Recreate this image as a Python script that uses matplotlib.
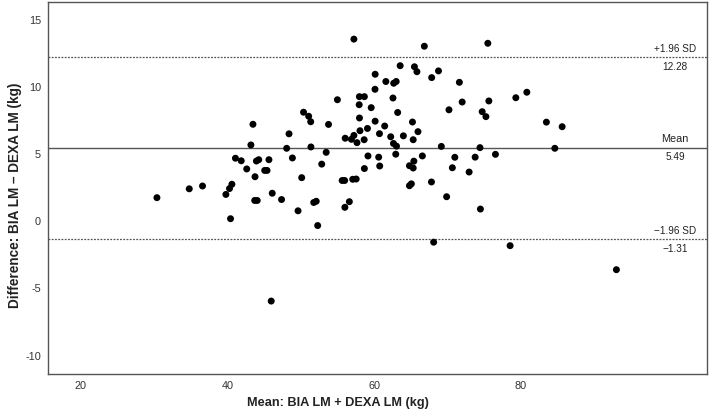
import matplotlib
matplotlib.use("Agg")
import matplotlib.pyplot as plt
import matplotlib.transforms as mtransforms

# Mean of the two methods (kg)
mean_lm = [
    30.36, 34.77, 36.58, 39.77, 40.26, 40.59, 40.40, 41.07, 41.86, 42.61,
    43.46, 43.18, 43.93, 44.25, 43.74, 43.70, 44.04, 45.06, 45.38, 45.64,
    46.09, 47.36, 48.38, 48.06, 48.84, 49.61, 50.11, 50.36, 51.06, 51.34,
    51.37, 51.75, 52.09, 52.29, 52.84, 53.45, 53.77, 54.98, 55.63, 55.97,
    45.95, 57.23, 56.04, 57.23, 56.89, 57.65, 57.98, 58.66, 57.95, 59.59,
    57.99, 60.13, 60.11, 61.59, 62.66, 63.00, 63.54, 62.56, 63.20, 58.06,
    58.63, 59.08, 60.13, 60.72, 61.43, 62.25, 62.63, 63.04, 62.94, 59.15,
    58.66, 60.61, 60.75, 57.07, 57.54, 56.61, 56.00, 63.98, 65.22, 65.97,
    65.32, 64.81, 65.41, 65.32, 64.81, 65.07, 66.57, 65.49, 65.83, 66.84,
    67.84, 68.77, 69.16, 67.81, 68.11, 69.88, 70.20, 71.00, 70.66, 71.62,
    72.00, 72.95, 73.77, 74.43, 74.49, 74.73, 75.24, 75.64, 75.50, 76.54,
    78.54, 79.32, 80.82, 83.49, 85.64, 84.64, 93.04,
]
# Difference BIA - DEXA (kg)
diff_lm = [
    1.77, 2.43, 2.64, 2.01, 2.45, 2.77, 0.20, 4.71, 4.52, 3.91,
    7.24, 5.70, 4.50, 4.60, 3.33, 1.56, 1.56, 3.80, 3.80, 4.60,
    2.10, 1.63, 6.53, 5.45, 4.73, 0.79, 3.26, 8.14, 7.84, 7.43,
    5.55, 1.41, 1.50, -0.31, 4.27, 5.15, 7.23, 9.07, 3.05, 3.05,
    -5.94, 13.59, 6.20, 6.41, 6.12, 5.87, 9.30, 9.30, 8.70, 8.48,
    7.71, 10.97, 9.85, 10.43, 10.30, 10.43, 11.61, 9.20, 8.12, 6.76,
    6.09, 6.93, 7.47, 6.54, 7.11, 6.31, 5.81, 5.61, 5.01, 4.88,
    3.94, 4.79, 4.13, 3.14, 3.16, 1.47, 1.05, 6.38, 7.41, 6.69,
    6.09, 4.15, 4.49, 3.98, 2.66, 2.80, 4.88, 11.53, 11.16, 13.06,
    10.72, 11.22, 5.59, 2.94, -1.55, 1.84, 8.32, 4.78, 4.00, 10.37,
    8.90, 3.68, 4.79, 5.50, 0.92, 8.18, 7.81, 8.98, 13.28, 5.00,
    -1.81, 9.22, 9.63, 7.40, 7.06, 5.45, -3.60,
]

mean_diff = 5.49
upper_loa = 12.28
lower_loa = -1.31

x_ticks = [20, 40, 60, 80]
y_ticks = [-10, -5, 0, 5, 10, 15]

plt.rcParams['font.family'] = ['Liberation Sans', 'DejaVu Sans']
plt.rcParams['axes.unicode_minus'] = False

fig = plt.figure(figsize=(7.09, 4.18), dpi=100)
ax = fig.add_axes([48/709, (418-374.3)/418, (707-48)/709, (374.3-1.7)/418])

ax.scatter(mean_lm, diff_lm, s=25, color='black', edgecolors='none', zorder=3)

ax.axhline(mean_diff, color='#555555', lw=1.0, zorder=2)
ax.axhline(upper_loa, color='#555555', lw=0.9, ls=(0, (1.5, 1.1)), zorder=2)
ax.axhline(lower_loa, color='#555555', lw=0.9, ls=(0, (1.5, 1.1)), zorder=2)

ax.set_xlim(15.5, 105.4)
ax.set_ylim(-11.40, 16.38)
ax.set_xticks(x_ticks)
ax.set_yticks(y_ticks)
ax.tick_params(length=0, labelsize=7.8, colors='#333333', pad=5)

for sp in ax.spines.values():
    sp.set_color('#555555')
    sp.set_linewidth(1.0)

trans = mtransforms.blended_transform_factory(ax.transAxes, ax.transData)
xt = 0.9515
fs = 7.2
tc = '#222222'
ax.annotate('+1.96 SD', xy=(xt, upper_loa), xycoords=trans, xytext=(0, 5.3),
            textcoords='offset points', ha='center', va='center', fontsize=fs, color=tc)
ax.annotate(f'{upper_loa:.2f}', xy=(xt, upper_loa), xycoords=trans, xytext=(0, -7.2),
            textcoords='offset points', ha='center', va='center', fontsize=fs, color=tc)
ax.annotate('Mean', xy=(xt, mean_diff), xycoords=trans, xytext=(0, 6.1),
            textcoords='offset points', ha='center', va='center', fontsize=fs + 0.6, color=tc)
ax.annotate(f'{mean_diff:.2f}', xy=(xt, mean_diff), xycoords=trans, xytext=(0, -6.5),
            textcoords='offset points', ha='center', va='center', fontsize=fs, color=tc)
ax.annotate('\u22121.96 SD', xy=(xt, lower_loa), xycoords=trans, xytext=(0, 6.0),
            textcoords='offset points', ha='center', va='center', fontsize=fs, color=tc)
ax.annotate(f'\u2212{abs(lower_loa):.2f}', xy=(xt, lower_loa), xycoords=trans, xytext=(0, -7.2),
            textcoords='offset points', ha='center', va='center', fontsize=fs, color=tc)

fig.text(338/709, 1 - 403/418, 'Mean: BIA LM + DEXA LM (kg)', ha='center', va='center',
         fontsize=9.2, fontweight='bold', color='#222222')
fig.text(15/709, 1 - 195/418, 'Difference: BIA LM \u2013 DEXA LM (kg)', ha='center', va='center',
         rotation=90, fontsize=9.8, fontweight='bold', color='#222222')

fig.savefig('out.png', dpi=100)
